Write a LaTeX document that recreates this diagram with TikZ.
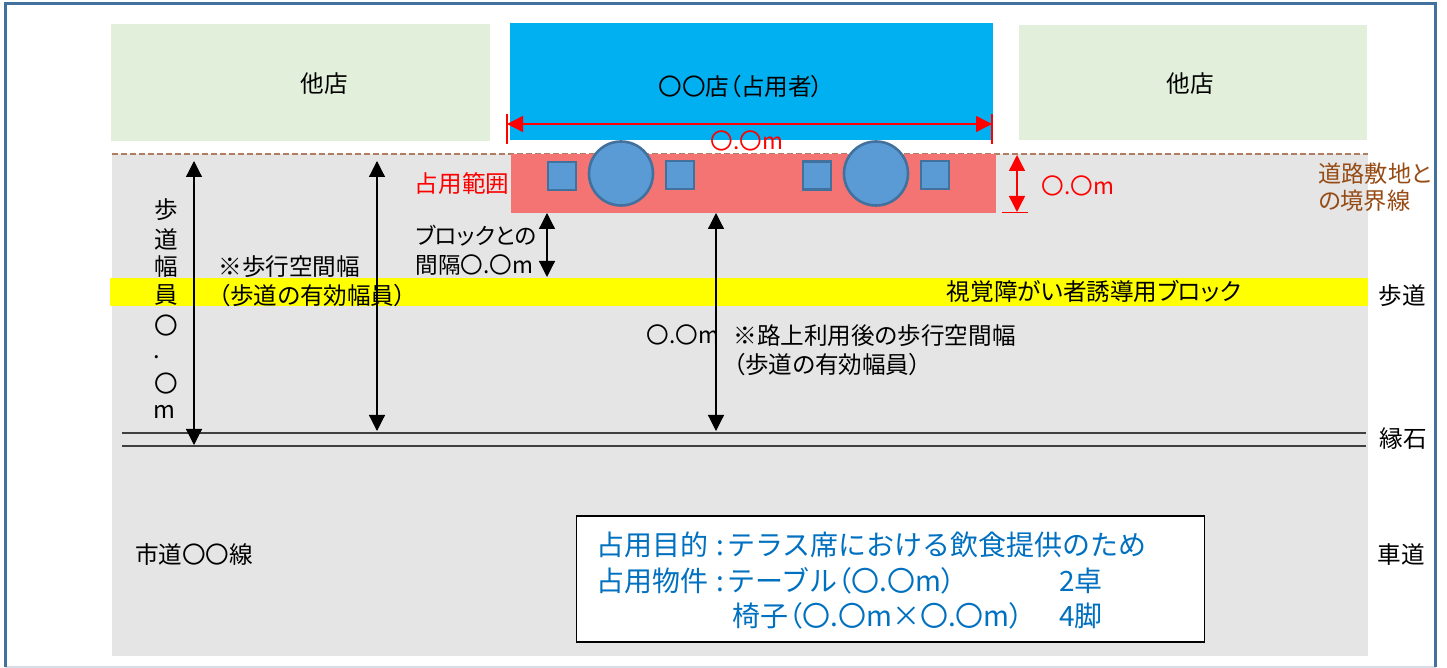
\documentclass[tikz,border=0pt]{standalone}
\usepackage{fontspec}
\usetikzlibrary{arrows.meta}
\setmainfont{Noto Sans CJK JP}[RawFeature=+palt]
\newfontfamily\fullf{Noto Sans CJK JP}
\definecolor{frameC}{HTML}{41719C}
\definecolor{paleC}{HTML}{D5DEE8}
\definecolor{greenC}{HTML}{E2EFDA}
\definecolor{blueC}{HTML}{00B0F0}
\definecolor{roadC}{HTML}{E5E5E5}
\definecolor{zoneC}{HTML}{F47373}
\definecolor{furnC}{HTML}{5B9BD5}
\definecolor{furnE}{HTML}{41719C}
\definecolor{brownC}{HTML}{964B14}
\definecolor{dashC}{HTML}{B07D62}
\definecolor{infoC}{HTML}{0070C0}
\definecolor{yellowC}{HTML}{FFFF00}
\tikzset{
 lbl/.style={inner sep=0pt,font=\fontsize{11.8}{14.5}\selectfont,align=left},
 small/.style={lbl,font=\fontsize{11.3}{14.5}\selectfont},
 redlbl/.style={lbl,text=red},
 seat/.style={draw=furnE,line width=1.3pt,fill=furnC,minimum size=14pt,inner sep=0pt,shape=rectangle},
 tbl/.style={draw=furnE,line width=1.3pt,fill=furnC,minimum size=32pt,inner sep=0pt,shape=circle},
 dim/.style={line width=0.6pt,{Triangle[length=8pt,width=8pt]}-{Triangle[length=8pt,width=8pt]}},
 reddim/.style={dim,red,line width=0.7pt},
 redtick/.style={red,line width=0.7pt},
 curb/.style={draw=black!75,line width=0.6pt},
 infotxt/.style={inner sep=0pt,anchor=base west,text=infoC,font=\fullf\fontsize{14}{16.5}\selectfont},
}
\newcommand{\pl}[1]{{\rmfamily\fontsize{14}{16.5}\selectfont #1}}
\begin{document}
\begin{tikzpicture}[x=0.5pt,y=-0.5pt]
\useasboundingbox (0,0) rectangle (1447,668);
\fill[white] (0,0) rectangle (1447,668);
\draw[paleC,line width=0.7pt] (5,667) -- (1436,667);
\draw[frameC,line width=1.3pt] (5.5,667) -- (5.5,3.5) -- (1435.5,3.5) -- (1435.5,667);
\fill[roadC] (112,154) rectangle (1368,656);
\fill[greenC] (111,24) rectangle (490,141);
\fill[greenC] (1019,25) rectangle (1367,140);
\fill[blueC] (510,23) rectangle (993,140);
\fill[yellowC] (110,278) rectangle (1368,306);
\coordinate (bndL) at (112,154); \coordinate (bndR) at (1368,154);
\draw[dashC,line width=0.7pt,dash pattern=on 3pt off 1.5pt] (bndL) -- (bndR);
\node[inner sep=0pt,fill=zoneC,minimum width=242.5pt,minimum height=29.5pt,anchor=north west] (zone) at (511,154) {};
\node[seat] (s1) at (562,176) {};
\node[tbl] (t1) at (621,173.5) {};
\node[seat] (s2) at (680,175) {};
\node[seat] (s3) at (817,175.5) {};
\node[tbl] (t2) at (876,173.5) {};
\node[seat] (s4) at (935,175) {};
\draw[curb] (122,433) -- (1366,433);
\draw[curb] (122,446) -- (1366,446);
\node[lbl,anchor=center] (a) at (324,84) {他店};
\node[lbl,anchor=center] (b) at (741,87) {〇〇店（占用者）};
\node[lbl,anchor=center] (c) at (1190,84) {他店};
\coordinate (wL) at (507,124); \coordinate (wR) at (992,124);
\draw[reddim] (wL) -- (wR);
\draw[redtick] (507,114) -- (507,144);
\draw[redtick] (992,114) -- (992,144);
\node[small,text=red,anchor=center] (w) at (747,141) {〇.〇m};
\node[redlbl,anchor=center] (z) at (462,184) {占用範囲};
\coordinate (hT) at (1017,155); \coordinate (hB) at (1017,212);
\draw[reddim] (hT) -- (hB);
\draw[redtick] (1002,212.5) -- (1028,212.5);
\node[small,text=red,anchor=center] (h) at (1078,186) {〇.〇m};
\node[lbl,anchor=north west,text=brownC,font=\fontsize{11.6}{13.5}\selectfont] (bd) at (1318,162) {道路敷地と\\の境界線};
\coordinate (d1T) at (194,161); \coordinate (d1B) at (194,445);
\draw[dim] (d1T) -- (d1B);
\coordinate (d2T) at (377,161); \coordinate (d2B) at (377,431);
\draw[dim] (d2T) -- (d2B);
\coordinate (d3T) at (547,213); \coordinate (d3B) at (547,277);
\draw[dim] (d3T) -- (d3B);
\coordinate (d4T) at (716,213); \coordinate (d4B) at (716,431);
\draw[dim] (d4T) -- (d4B);
\node[lbl,anchor=center] (v1) at (166,210) {歩};
\node[lbl,anchor=center] (v2) at (166,239) {道};
\node[lbl,anchor=center] (v3) at (166,267) {幅};
\node[lbl,anchor=center] (v4) at (166,295) {員};
\node[lbl,anchor=center] (v5) at (166,326) {〇};
\node[lbl,anchor=center] (v6) at (157,357) {.};
\node[lbl,anchor=center] (v7) at (166,384) {〇};
\node[lbl,anchor=center] (v8) at (164,412) {m};
\node[lbl,anchor=north west] (n1) at (218,255) {※歩行空間幅\\（歩道の有効幅員）};
\node[small,anchor=north west] (n2) at (415,225) {ブロックとの\\間隔〇.〇m};
\node[lbl,anchor=center] (y) at (1094,291) {視覚障がい者誘導用ブロック};
\node[lbl,anchor=center] (sd) at (1402,296) {歩道};
\node[lbl,anchor=center] (en) at (1403,439) {縁石};
\node[lbl,anchor=center] (sh) at (1401,555) {車道};
\node[small,anchor=center] (o) at (683,335) {〇.〇m};
\node[lbl,anchor=north west] (n3) at (733,324) {※路上利用後の歩行空間幅\\（歩道の有効幅員）};
\node[lbl,anchor=center] (cd) at (194,555) {市道〇〇線};
\node[draw=black,line width=0.9pt,fill=white,minimum width=314pt,minimum height=63pt,anchor=north west,inner sep=0pt] (box) at (575.5,515) {};
\node[infotxt] (i1) at (596,555) {占用目的};
\node[infotxt] (i1b) at (716,555) {:};
\node[infotxt] (i1c) at (727,555) {テラス席における飲食提供のため};
\node[infotxt] (i2) at (596,591) {占用物件};
\node[infotxt] (i2b) at (716,591) {:};
\node[infotxt] (i2c) at (727,591) {テーブル\pl{（〇.〇m）}};
\node[infotxt] (i3) at (1059,591) {2卓};
\node[infotxt] (i4) at (732,626) {椅子\pl{（〇.〇m×〇.〇m）}};
\node[infotxt] (i5) at (1059,626) {4脚};
\end{tikzpicture}
\end{document}
